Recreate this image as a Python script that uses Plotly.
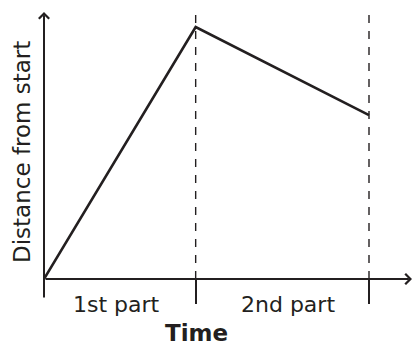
import plotly.graph_objects as go

# Data
time = [0, 7, 15]            # start, end of 1st part, end of 2nd part
distance = [0, 10, 6.5]      # distance from start at those times
boundaries = [7, 15]         # part boundaries (dashed lines / ticks)
part_labels = ["1st part", "2nd part"]
x_title = "Time"
y_title = "Distance from start"

INK = "#231f20"
FONT = "DejaVu Sans"

W, H = 414, 346
L, R, T, B = 44, 2, 12, 67
pw, ph = W - L - R, H - T - B

fig = go.Figure()
fig.add_trace(go.Scatter(
    x=time, y=distance, mode="lines",
    line=dict(color=INK, width=2.6),
    cliponaxis=False, hoverinfo="skip",
))

shapes = []
for b in boundaries:
    shapes.append(dict(type="line", xref="x", yref="paper", x0=b, x1=b, y0=0, y1=1,
                       line=dict(color=INK, width=1.4, dash="8px,8px")))

def px2paper(px, py):
    return (px - L) / pw, (H - B - py) / ph

annotations = []
# x axis with arrow
annotations.append(dict(x=1, xref="paper", y=0, yref="y", ax=-pw, ay=0,
                        axref="pixel", ayref="pixel", showarrow=True, arrowhead=4,
                        arrowsize=1, arrowwidth=2, arrowcolor=INK, text="", standoff=0))
# y axis with arrow (extends a bit below origin)
annotations.append(dict(x=0, xref="x", y=1, yref="paper", ax=0, ay=ph + 20,
                        axref="pixel", ayref="pixel", showarrow=True, arrowhead=4,
                        arrowsize=1, arrowwidth=2, arrowcolor=INK, text="", standoff=0))

label_px = [(116, 304), (288, 304)]
for (lx, ly), txt in zip(label_px, part_labels):
    xp, yp = px2paper(lx, ly)
    annotations.append(dict(x=xp, y=yp, xref="paper", yref="paper", text=txt,
                            showarrow=False, xanchor="center", yanchor="middle",
                            font=dict(family=FONT, size=22, color=INK)))
xp, yp = px2paper(196.5, 333)
annotations.append(dict(x=xp, y=yp, xref="paper", yref="paper", text="<b>" + x_title + "</b>",
                        showarrow=False, xanchor="center", yanchor="middle",
                        font=dict(family=FONT, size=23, color=INK)))
xp, yp = px2paper(22, 152)
annotations.append(dict(x=xp, y=yp, xref="paper", yref="paper", text=y_title,
                        textangle=-90, showarrow=False, xanchor="center", yanchor="middle",
                        font=dict(family=FONT, size=23, color=INK)))

fig.update_layout(
    width=W, height=H,
    margin=dict(l=L, r=R, t=T, b=B, pad=0),
    paper_bgcolor="white", plot_bgcolor="white",
    showlegend=False,
    shapes=shapes, annotations=annotations,
    xaxis=dict(range=[0, 368 / (325 / 15)], showgrid=False, zeroline=False, showline=False,
               tickvals=boundaries, ticks="outside", ticklen=24, tickwidth=1.5,
               tickcolor=INK, showticklabels=False, fixedrange=True),
    yaxis=dict(range=[0, 267 / 25.2], showgrid=False, zeroline=False, showline=False,
               showticklabels=False, ticks="", fixedrange=True),
)

fig.write_html("out.html", config={"displayModeBar": False},
               post_script="document.body.style.margin='0';document.body.style.overflow='hidden';")
